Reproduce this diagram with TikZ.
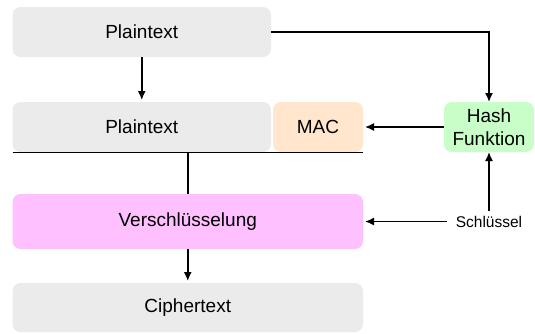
\documentclass[tikz,border=0pt]{standalone}
\usepackage{fontspec}
\setmainfont{Liberation Sans}
\usepackage{tikz}
\usetikzlibrary{positioning, arrows.meta}
\definecolor{plaingray}{HTML}{EBEBEB}
\definecolor{macpeach}{HTML}{FFE6CC}
\definecolor{hashgreen}{HTML}{C8FFC8}
\definecolor{encpink}{HTML}{FFC0FF}
\tikzset{
->, % all connectors are directed
>={Latex[length=9pt,width=8pt]}, % filled arrow heads
node distance=95pt, % centre to centre for below of
box/.style={rectangle, rounded corners=8pt, inner sep=0pt, outer sep=0pt, draw=none, minimum height=50pt, font=\fontsize{19}{22.5}\selectfont}, % the coloured blocks
}

\begin{document}
\begin{tikzpicture}[line width=1.5pt]
            \path[use as bounding box, -] (0pt,0pt) rectangle (535pt,-333pt);
            \node[box, fill=plaingray, minimum width=258.5pt] (pt1) at (141.75pt,-32pt) {Plaintext};
            \node[box, fill=plaingray, minimum width=258.5pt, below of=pt1] (pt2) {Plaintext};
            \node[box, fill=macpeach, minimum width=90pt, right=2pt of pt2] (mac) {MAC};
            \node[box, fill=hashgreen, minimum width=90pt, align=center, right=81pt of mac] (hash) {Hash\\Funktion};
            \node[box, fill=encpink, minimum width=350.5pt, minimum height=55pt, below=42pt of pt2.south west, anchor=north west] (enc) {Verschlüsselung};
            \node[box, fill=plaingray, minimum width=350.5pt, minimum height=49pt, below=34pt of enc] (ct) {Ciphertext};
            \node[inner xsep=9pt, inner ysep=5pt, outer sep=0pt, font=\fontsize{15.5}{18}\selectfont] (key) at (hash |- enc) {Schlüssel};
            \draw
                (pt1.east) -| (hash.north)
                (pt1) edge[shorten >=2pt] (pt2)
                (hash) edge[shorten >=2pt] (mac)
                (key) edge[shorten >=2pt] (enc)
                (key) edge (hash)
                (enc) edge[shorten >=2pt] (ct)
                ;
            \draw[-] ([yshift=-0.7pt]pt2.south west) -- ([yshift=-0.7pt]mac.south east);
            \draw[-] (enc.north |- pt2.south) -- (enc.north);
            \end{tikzpicture}
\end{document}
